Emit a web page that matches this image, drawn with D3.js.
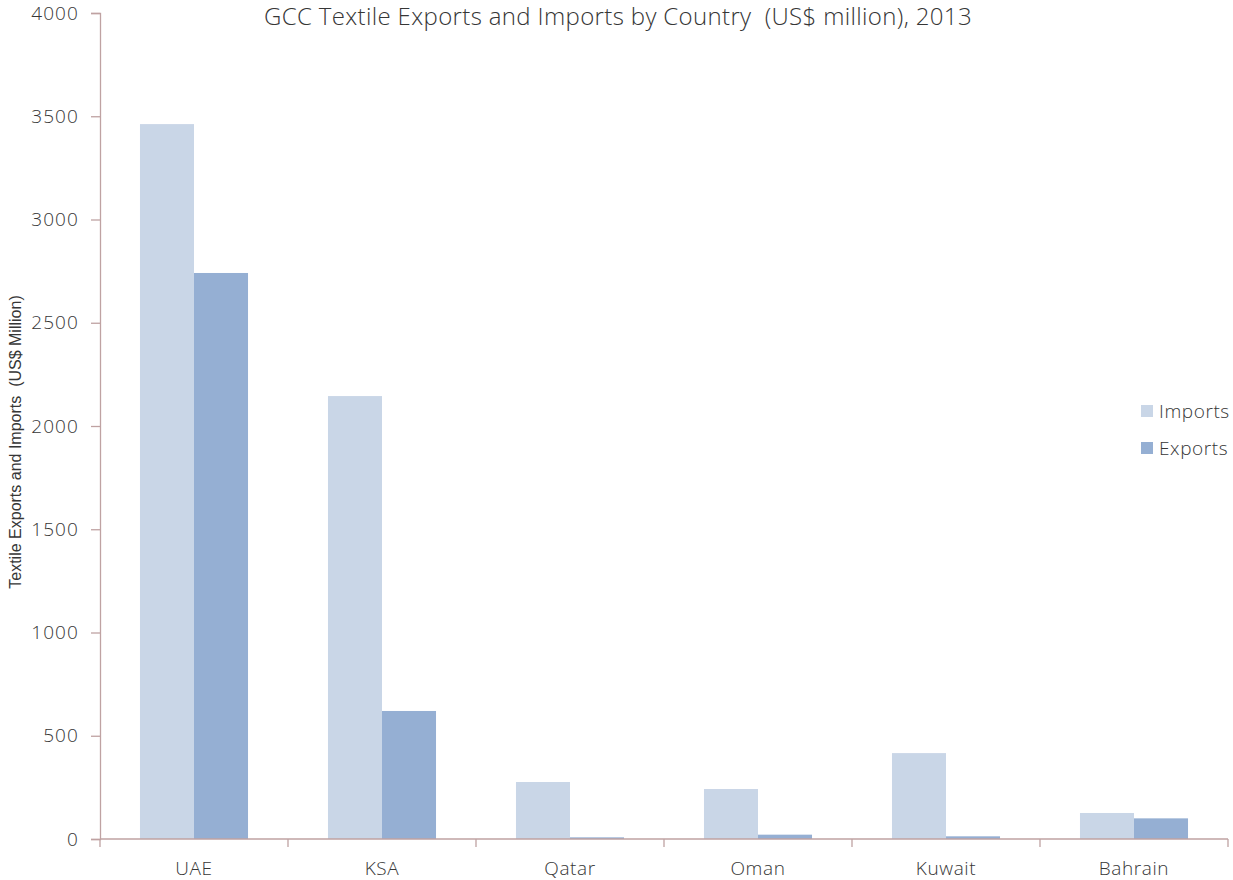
<!DOCTYPE html>
<html>
<head>
<meta charset="utf-8">
<script src="https://cdn.jsdelivr.net/npm/d3@7"></script>
<style>
  html, body { margin: 0; padding: 0; background: #ffffff; }
  svg text { font-family: "Open Sans", Lato, sans-serif; font-weight: 300; fill: #363636; white-space: pre; }
</style>
</head>
<body>
<svg id="chart" width="1233" height="880"></svg>
<script>
// GCC textile trade by country, 2013 (US$ million)
const countries = ["UAE", "KSA", "Qatar", "Oman", "Kuwait", "Bahrain"];
const imports = [3462, 2145, 276, 242, 416, 126];
const exports = [2741, 620, 8, 21, 13, 100];
const seriesNames = ["Imports", "Exports"];
const yTicks = [0, 500, 1000, 1500, 2000, 2500, 3000, 3500, 4000];

const colors = { Imports: "#c9d6e7", Exports: "#95afd3" };
const axisColor = "#bfa2a2";

const svg = d3.select("#chart");
const margin = { left: 100, top: 13 };
const plotRight = 1228;
const plotBottom = 839;

const x = d3.scaleBand().domain(countries).range([margin.left, plotRight]);
const xInner = d3.scaleBand().domain(seriesNames).range([0, x.bandwidth()]).paddingOuter(0.74);
const y = d3.scaleLinear().domain([0, 4000]).range([plotBottom, margin.top]);

const rows = countries.map((c, i) => ({ country: c, Imports: imports[i], Exports: exports[i] }));

// bars
const groups = svg.append("g").selectAll("g").data(rows).join("g")
  .attr("transform", d => `translate(${x(d.country)},0)`);
groups.selectAll("rect")
  .data(d => seriesNames.map(k => ({ key: k, value: d[k] })))
  .join("rect")
  .attr("x", d => xInner(d.key))
  .attr("width", xInner.bandwidth())
  .attr("y", d => y(d.value))
  .attr("height", d => plotBottom - y(d.value))
  .attr("fill", d => colors[d.key]);

// y axis
const yAxis = svg.append("g").attr("transform", `translate(${margin.left},0)`)
  .call(d3.axisLeft(y).tickValues(yTicks).tickSize(9).tickPadding(12).tickFormat(d3.format("d")));
yAxis.select(".domain").attr("stroke", axisColor).attr("stroke-width", 1.3);
yAxis.selectAll(".tick line").attr("stroke", axisColor).attr("stroke-width", 1.3);
yAxis.selectAll(".tick text").attr("font-size", 19).attr("fill", "#363636")
  .attr("font-family", null).style("letter-spacing", "1.1px");

// x axis with ticks at category boundaries
const xAxisG = svg.append("g").attr("transform", `translate(0,${plotBottom})`);
xAxisG.append("line").attr("x1", margin.left).attr("x2", plotRight)
  .attr("stroke", axisColor).attr("stroke-width", 1.3);
const boundaries = countries.map(c => x(c)).concat([x(countries[countries.length - 1]) + x.bandwidth()]);
xAxisG.selectAll("line.b").data(boundaries).join("line").attr("class", "b")
  .attr("x1", d => d).attr("x2", d => d).attr("y1", 0).attr("y2", 8)
  .attr("stroke", axisColor).attr("stroke-width", 1.3);
xAxisG.selectAll("text").data(countries).join("text")
  .attr("x", d => x(d) + x.bandwidth() / 2)
  .attr("y", 36)
  .attr("text-anchor", "middle")
  .attr("font-size", 19)
  .style("letter-spacing", "0.6px")
  .text(d => d);

// title
svg.append("text").attr("x", 618).attr("y", 25).attr("text-anchor", "middle")
  .attr("font-size", 24).style("letter-spacing", "0.35px")
  .text("GCC Textile Exports and Imports by Country  (US$ million), 2013");

// y axis title
svg.append("text")
  .attr("transform", "translate(21,442) rotate(-90)")
  .attr("text-anchor", "middle")
  .attr("font-size", 16)
  .style("font-family", "'Liberation Sans', Arial, sans-serif")
  .style("font-weight", 400)
  .text("Textile Exports and Imports  (US$ Million)");

// legend
const legend = svg.append("g").selectAll("g").data(seriesNames).join("g")
  .attr("transform", (d, i) => `translate(1141,${411 + i * 37})`);
legend.append("rect").attr("x", 0).attr("y", -6).attr("width", 12).attr("height", 12)
  .attr("fill", d => colors[d]);
legend.append("text").attr("x", 18).attr("y", 7).attr("font-size", 19)
  .style("letter-spacing", "0.6px").text(d => d);
</script>
</body>
</html>
